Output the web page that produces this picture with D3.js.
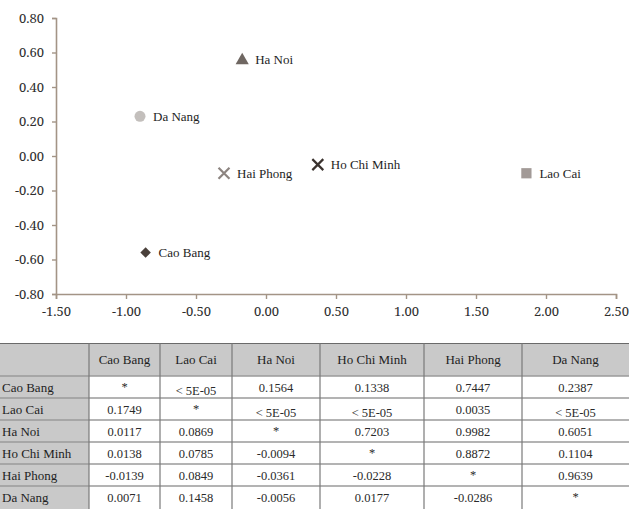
<!DOCTYPE html>
<html>
<head>
<meta charset="utf-8">
<script src="https://cdn.jsdelivr.net/npm/d3@7/dist/d3.min.js"></script>
<style>
  html, body { margin: 0; padding: 0; background: #fff; }
  svg { display: block; }
</style>
</head>
<body>
<svg id="chart" width="629" height="509"></svg>
<script>
// Province coordinates on the first two axes
const provinces = ["Ha Noi", "Da Nang", "Hai Phong", "Cao Bang", "Ho Chi Minh", "Lao Cai"];
const dim1 = [-0.17, -0.90, -0.30, -0.86, 0.37, 1.86];
const dim2 = [0.56, 0.23, -0.10, -0.56, -0.05, -0.10];
const markerShapes = ["triangle", "circle", "cross", "diamond", "cross", "square"];
const markerColors = ["#6f6762", "#c3bfbc", "#8d8581", "#4a403b", "#3a322e", "#a29a97"];

const xTicks = [-1.5, -1.0, -0.5, 0.0, 0.5, 1.0, 1.5, 2.0, 2.5];
const yTicks = [-0.8, -0.6, -0.4, -0.2, 0.0, 0.2, 0.4, 0.6, 0.8];

// Pairwise table: header and row names, cell texts
const tableCols = ["Cao Bang", "Lao Cai", "Ha Noi", "Ho Chi Minh", "Hai Phong", "Da Nang"];
const tableRows = ["Cao Bang", "Lao Cai", "Ha Noi", "Ho Chi Minh", "Hai Phong", "Da Nang"];
const rowCaoBang   = ["*", "< 5E-05", "0.1564", "0.1338", "0.7447", "0.2387"];
const rowLaoCai    = ["0.1749", "*", "< 5E-05", "< 5E-05", "0.0035", "< 5E-05"];
const rowHaNoi     = ["0.0117", "0.0869", "*", "0.7203", "0.9982", "0.6051"];
const rowHoChiMinh = ["0.0138", "0.0785", "-0.0094", "*", "0.8872", "0.1104"];
const rowHaiPhong  = ["-0.0139", "0.0849", "-0.0361", "-0.0228", "*", "0.9639"];
const rowDaNang    = ["0.0071", "0.1458", "-0.0056", "0.0177", "-0.0286", "*"];
const tableCells = [rowCaoBang, rowLaoCai, rowHaNoi, rowHoChiMinh, rowHaiPhong, rowDaNang];

const svg = d3.select("#chart");
const axisColor = "#a39486";
const tickFont = "\"Noto Serif\"";
const textFont = "\"Liberation Serif\"";

// ---- Scatter plot ----
const x = d3.scaleLinear().domain([-1.5, 2.5]).range([56, 616]);
const y = d3.scaleLinear().domain([-0.8, 0.8]).range([294, 18]);
const fmt = d => d3.format(".2f")(d).replace("\u2212", "-");

const xAxis = svg.append("g")
  .attr("transform", `translate(0,${y(-0.8)})`)
  .call(d3.axisBottom(x).tickValues(xTicks).tickFormat(fmt).tickSize(5).tickPadding(8));
const yAxis = svg.append("g")
  .attr("transform", `translate(${x(-1.5)},0)`)
  .call(d3.axisLeft(y).tickValues(yTicks).tickFormat(fmt).tickSize(4).tickPadding(8));

[xAxis, yAxis].forEach(g => {
  g.attr("font-family", null).attr("font-size", null);
  g.select(".domain").attr("stroke", axisColor).attr("stroke-width", 1.6);
  g.selectAll(".tick line").attr("stroke", axisColor).attr("stroke-width", 1.4);
  g.selectAll(".tick text")
    .attr("fill", "#2e2e2e")
    .style("font-family", tickFont)
    .style("font-size", "13px");
});

const symbolType = {
  triangle: d3.symbolTriangle,
  circle: d3.symbolCircle,
  cross: d3.symbolX,
  diamond: d3.symbolDiamond2,
  square: d3.symbolSquare
};
const symbolSize = { triangle: 75, circle: 95, cross: 80, diamond: 70, square: 105 };

const pts = svg.append("g").selectAll("g")
  .data(provinces.map((name, i) => ({ name, dx: dim1[i], dy: dim2[i], shape: markerShapes[i], color: markerColors[i] })))
  .join("g")
  .attr("transform", d => `translate(${x(d.dx)},${y(d.dy)})`);

pts.append("path")
  .attr("d", d => d3.symbol().type(symbolType[d.shape]).size(symbolSize[d.shape])())
  .attr("fill", d => d.shape === "cross" ? "none" : d.color)
  .attr("stroke", d => d.shape === "cross" ? d.color : "none")
  .attr("stroke-width", d => d.shape === "cross" ? 2.2 : 0)
  .attr("transform", d => d.shape === "triangle" ? "translate(0,1)" : null);

pts.append("text")
  .attr("x", 13)
  .attr("y", 4.5)
  .attr("fill", "#1e1e1e")
  .style("font-family", textFont)
  .style("font-size", "13px")
  .text(d => d.name);

// ---- Pairwise table ----
const colEdges = [0, 89, 160, 232, 320, 424, 522, 629];
const headerTop = 343.5, headerH = 32.5, rowH = 22;
const rowTop = i => headerTop + headerH + i * rowH;
const tbl = svg.append("g");
const gray = "#c9c9c9";

// header row background
tbl.append("rect")
  .attr("x", 0).attr("y", headerTop)
  .attr("width", 629).attr("height", headerH)
  .attr("fill", gray);
// row-name column background
tbl.append("rect")
  .attr("x", 0).attr("y", headerTop + headerH)
  .attr("width", colEdges[1]).attr("height", tableRows.length * rowH + 10)
  .attr("fill", gray);

// horizontal rules
const hLines = d3.range(tableRows.length).map(i => rowTop(i));
tbl.selectAll("line.h")
  .data([headerTop].concat(hLines))
  .join("line")
  .attr("x1", 0).attr("x2", 629)
  .attr("y1", d => d).attr("y2", d => d)
  .attr("stroke", (d, i) => i === 0 ? "#6a6a6a" : "#9a9a9a")
  .attr("stroke-width", (d, i) => i === 0 ? 1.2 : 1.6);

// vertical rules
tbl.selectAll("line.v")
  .data(colEdges.slice(1, -1))
  .join("line")
  .attr("x1", d => d).attr("x2", d => d)
  .attr("y1", headerTop).attr("y2", 509)
  .attr("stroke", "#7a7a7a")
  .attr("stroke-width", 1.2);

// header labels
tbl.selectAll("text.col")
  .data(tableCols)
  .join("text")
  .attr("x", (d, i) => (colEdges[i + 1] + colEdges[i + 2]) / 2)
  .attr("y", headerTop + headerH / 2 + 4.5)
  .attr("text-anchor", "middle")
  .attr("fill", "#1e1e1e")
  .style("font-family", textFont)
  .style("font-size", "13px")
  .text(d => d);

// row labels
tbl.selectAll("text.row")
  .data(tableRows)
  .join("text")
  .attr("x", 2)
  .attr("y", (d, i) => rowTop(i) + rowH / 2 + 4.5)
  .attr("fill", "#1e1e1e")
  .style("font-family", textFont)
  .style("font-size", "13px")
  .text(d => d);

// cell values
tableCells.forEach((row, r) => {
  tbl.append("g").selectAll("text")
    .data(row)
    .join("text")
    .attr("x", (d, c) => (colEdges[c + 1] + colEdges[c + 2]) / 2)
    .attr("y", d => rowTop(r) + rowH / 2 + 4.5 + (d.startsWith("<") ? 3 : d === "*" ? -1 : 0))
    .attr("text-anchor", "middle")
    .attr("fill", "#2a2a2a")
    .style("font-family", textFont)
    .style("font-size", "12.5px")
    .text(d => d);
});
</script>
</body>
</html>
